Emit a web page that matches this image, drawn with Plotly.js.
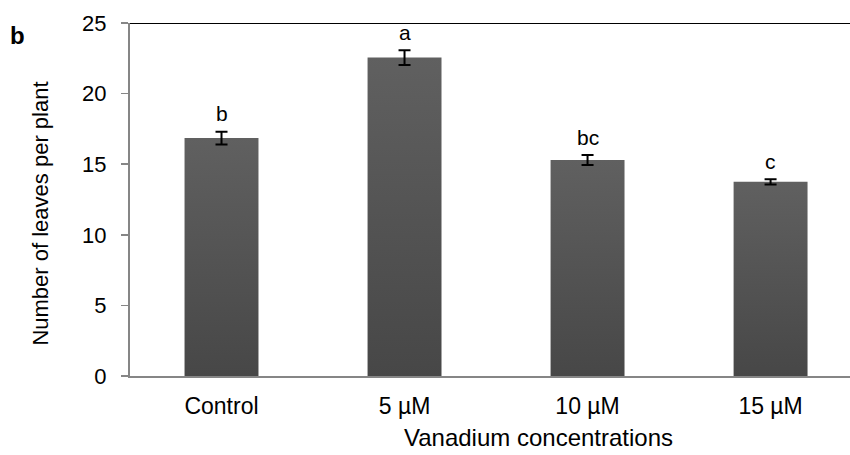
<!DOCTYPE html>
<html>
<head>
<meta charset="utf-8">
<script src="https://cdn.plot.ly/plotly-3.0.1.min.js"></script>
<style>html,body{margin:0;padding:0;background:#fff;}#chart{width:850px;height:455px;}</style>
</head>
<body>
<div id="chart"></div>
<script>
const categories = ["Control", "5 µM", "10 µM", "15 µM"];
const leaves = [16.85, 22.55, 15.3, 13.75];
const errors = [0.45, 0.52, 0.35, 0.19];
const sigLetters = ["b", "a", "bc", "c"];
const yTicks = [0, 5, 10, 15, 20, 25];
const xTitle = "Vanadium concentrations";
const yTitle = "Number of leaves per plant";

const font = "Liberation Sans, Arial, sans-serif";
const barWidth = 0.404;
const positions = categories.map((c, i) => i);

const traces = [];
positions.forEach((p, i) => {
  const h = barWidth / 2;
  traces.push({
    type: "scatter", mode: "lines",
    x: [p - h, p - h, p + h, p + h, p - h],
    y: [0, leaves[i], leaves[i], 0, 0],
    fill: "toself",
    fillgradient: {type: "vertical", colorscale: [[0, "#474747"], [1, "#606060"]]},
    line: {width: 0, color: "rgba(0,0,0,0)"},
    hoverinfo: "skip"
  });
});
traces.push({
  type: "scatter", mode: "markers",
  x: positions, y: leaves,
  marker: {size: 1, color: "rgba(0,0,0,0)"},
  error_y: {type: "data", array: errors, visible: true, color: "#000000", thickness: 2, width: 6},
  hoverinfo: "x+y"
});

const annotations = positions.map((p, i) => ({
  x: p, y: leaves[i] + errors[i], xref: "x", yref: "y",
  text: sigLetters[i], showarrow: false, yanchor: "middle", yshift: 18,
  font: {family: font, size: 21, color: "#000"}
}));
annotations.push({
  x: 0, y: 1, xref: "paper", yref: "paper", xanchor: "left", yanchor: "top",
  text: "<b>b</b>", showarrow: false, font: {family: font, size: 24, color: "#000"},
  xshift: -122, yshift: 3
});
annotations.push({
  x: 0.568, y: 0, xref: "paper", yref: "paper", xanchor: "center", yanchor: "middle",
  text: xTitle, showarrow: false, font: {family: font, size: 24, color: "#000"},
  yshift: -61
});
annotations.push({
  x: 0, y: 0.46, xref: "paper", yref: "paper", xanchor: "center", yanchor: "middle",
  text: yTitle, showarrow: false, textangle: -90, font: {family: font, size: 22, color: "#000"},
  xshift: -89
});

const layout = {
  width: 850, height: 455,
  margin: {l: 130, r: 0, t: 23, b: 79},
  paper_bgcolor: "#fff", plot_bgcolor: "#fff",
  showlegend: false,
  font: {family: font, color: "#000"},
  xaxis: {
    range: [-0.5, 3.434],
    tickvals: positions, ticktext: categories,
    showline: true, linecolor: "#868686", linewidth: 2,
    ticks: "", showgrid: false, zeroline: false,
    ticklabelstandoff: 8,
    tickfont: {family: font, size: 23, color: "#000"}
  },
  yaxis: {
    range: [0, 25],
    tickvals: yTicks, ticktext: yTicks.map(String),
    showline: true, linecolor: "#868686", linewidth: 2,
    ticks: "outside", ticklen: 7, tickcolor: "#868686", tickwidth: 1.5,
    ticklabelstandoff: 10,
    showgrid: false, zeroline: false,
    tickfont: {family: font, size: 22, color: "#000"}
  },
  shapes: [{
    type: "line", xref: "paper", yref: "y", x0: 0, x1: 1, y0: 25, y1: 25,
    line: {color: "#000", width: 2}
  }],
  annotations: annotations
};

Plotly.newPlot("chart", traces, layout, {staticPlot: true, displayModeBar: false});
</script>
</body>
</html>
